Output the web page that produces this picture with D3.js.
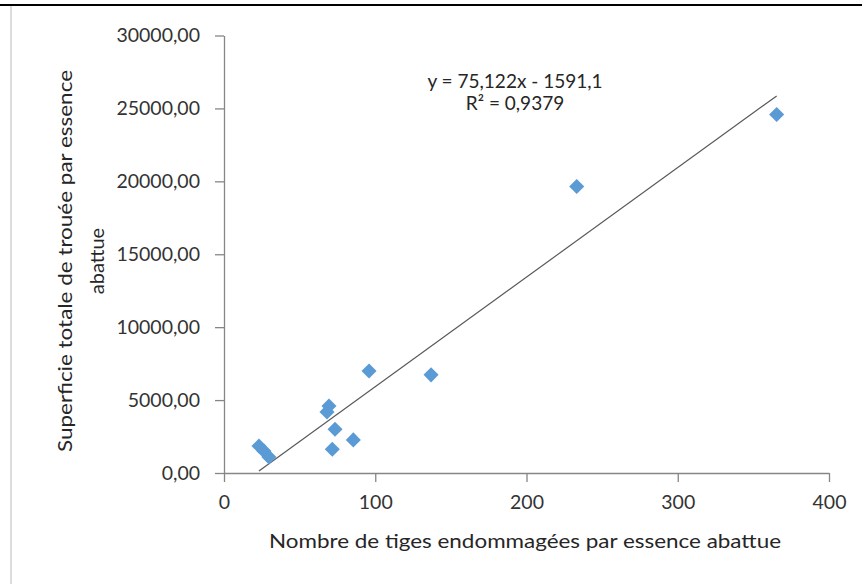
<!DOCTYPE html>
<html>
<head>
<meta charset="utf-8">
<script src="https://cdnjs.cloudflare.com/ajax/libs/d3/7.8.5/d3.min.js"></script>
<style>
  html, body { margin: 0; padding: 0; background: #fff; }
  svg { display: block; }
</style>
</head>
<body>
<script>
// data
var tiges = [365.4, 233.2, 136.9, 95.9, 68.1, 69.4, 73.4, 85.5, 71.6, 23.1, 26.4, 29.7];
var superficie = [24580, 19650, 6730, 7000, 4190, 4600, 3000, 2270, 1630, 1850, 1510, 1100];
var xTicks = [0, 100, 200, 300, 400];
var yTicks = [0, 5000, 10000, 15000, 20000, 25000, 30000];
var trend = { slope: 75.122, intercept: -1591.1 };
var equationLines = ['y = 75,122x - 1591,1', 'R\u00b2 = 0,9379'];

var width = 862, height = 584;
var fontFamily = 'Lato, "Open Sans", sans-serif';

var svg = d3.select('body').append('svg')
  .attr('width', width)
  .attr('height', height);

svg.append('rect')
  .attr('width', width)
  .attr('height', height)
  .attr('fill', '#fff');

// frame leftovers of the screenshot
svg.append('line')
  .attr('x1', 0).attr('x2', width)
  .attr('y1', 5).attr('y2', 5)
  .attr('stroke', '#000').attr('stroke-width', 2);
svg.append('line')
  .attr('x1', 11).attr('x2', 11)
  .attr('y1', 6).attr('y2', height)
  .attr('stroke', '#dcdcdc').attr('stroke-width', 2);

var x = d3.scaleLinear().domain([0, 400]).range([224, 829]);
var y = d3.scaleLinear().domain([0, 30000]).range([473, 35.5]);

var commaFmt = function(d) { return d3.format('.2f')(d).replace('.', ','); };

var yAxis = svg.append('g')
  .attr('transform', 'translate(' + x(0) + ',0)')
  .call(d3.axisLeft(y)
    .tickValues(yTicks)
    .tickSizeInner(9)
    .tickSizeOuter(0)
    .tickPadding(15)
    .tickFormat(commaFmt));

var xAxis = svg.append('g')
  .attr('transform', 'translate(0,' + y(0) + ')')
  .call(d3.axisBottom(x)
    .tickValues(xTicks)
    .tickSizeInner(9)
    .tickSizeOuter(0)
    .tickPadding(13)
    .tickFormat(d3.format('d')));

[xAxis, yAxis].forEach(function(ax) {
  ax.select('.domain').attr('stroke', '#868686').attr('stroke-width', 1.3);
  ax.selectAll('.tick line').attr('stroke', '#868686').attr('stroke-width', 1.3);
  ax.selectAll('.tick text')
    .attr('fill', '#333')
    .style('font-family', fontFamily)
    .style('font-size', '19.5px');
});

// trend line across the data range
var xExtent = d3.extent(tiges);
svg.append('line')
  .attr('x1', x(xExtent[0]))
  .attr('y1', y(trend.slope * xExtent[0] + trend.intercept))
  .attr('x2', x(xExtent[1]))
  .attr('y2', y(trend.slope * xExtent[1] + trend.intercept))
  .attr('stroke', '#595959')
  .attr('stroke-width', 1.2);

// diamonds
var diamond = d3.symbol().type(d3.symbolDiamond2).size(145);
svg.append('g').selectAll('path')
  .data(d3.range(tiges.length))
  .join('path')
  .attr('d', diamond)
  .attr('transform', function(i) {
    return 'translate(' + x(tiges[i]) + ',' + y(superficie[i]) + ')';
  })
  .attr('fill', '#5b9bd5');

// equation
svg.append('g').selectAll('text')
  .data(equationLines)
  .join('text')
  .attr('x', 515)
  .attr('y', function(d, i) { return 88 + i * 22; })
  .attr('text-anchor', 'middle')
  .attr('fill', '#262626')
  .style('font-family', fontFamily)
  .style('font-size', '19px')
  .text(function(d) { return d; });

// axis titles
svg.append('text')
  .attr('x', 525)
  .attr('y', 548)
  .attr('text-anchor', 'middle')
  .attr('fill', '#262626')
  .attr('textLength', 512)
  .attr('lengthAdjust', 'spacingAndGlyphs')
  .style('font-family', fontFamily)
  .style('font-size', '20px')
  .text('Nombre de tiges endommag\u00e9es par essence abattue');

var yTitle = svg.append('text')
  .attr('transform', 'translate(0,261) rotate(-90)')
  .attr('text-anchor', 'middle')
  .attr('fill', '#262626')
  .style('font-family', fontFamily)
  .style('font-size', '20px');
yTitle.append('tspan')
  .attr('x', 0).attr('y', 72)
  .attr('textLength', 382)
  .attr('lengthAdjust', 'spacingAndGlyphs')
  .text('Superficie totale de trou\u00e9e par essence');
yTitle.append('tspan')
  .attr('x', 0).attr('y', 104)
  .text('abattue');
</script>
</body>
</html>
